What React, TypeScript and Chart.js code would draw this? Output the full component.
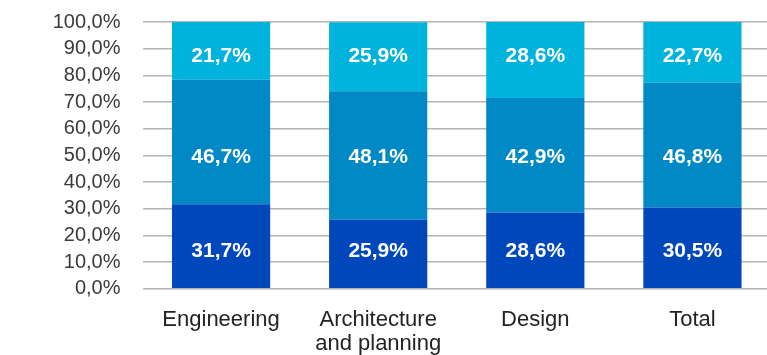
import React, { useEffect, useRef } from "react";
import { Chart, registerables } from "chart.js";

Chart.register(...registerables);

const categories: (string | string[])[] = ["Engineering", ["Architecture", "and planning"], "Design", "Total"];
const bottomSeries = [31.7, 25.9, 28.6, 30.5];
const middleSeries = [46.7, 48.1, 42.9, 46.8];
const topSeries = [21.7, 25.9, 28.6, 22.7];
const yTicks = [0, 10, 20, 30, 40, 50, 60, 70, 80, 90, 100];

const fmt = (v: number) => v.toFixed(1).replace(".", ",") + "%";
const mean = (a: number[]) => a.reduce((s, v) => s + v, 0) / a.length;

// labels sit on one row per series: bottom/top rows at the mean segment centre, middle row at axis midpoint
const labelRows = [mean(bottomSeries) / 2, 50, 100 - mean(topSeries) / 2];

const labelPlugin = {
  id: "segLabels",
  afterDatasetsDraw(chart: any) {
    const ctx = chart.ctx;
    const yScale = chart.scales.y;
    ctx.save();
    ctx.fillStyle = "#ffffff";
    ctx.font = "bold 21px 'Liberation Sans', Arial, sans-serif";
    ctx.textAlign = "center";
    ctx.textBaseline = "alphabetic";
    chart.data.datasets.forEach((ds: any, di: number) => {
      const meta = chart.getDatasetMeta(di);
      const yc = yScale.getPixelForValue(labelRows[di]);
      meta.data.forEach((bar: any, i: number) => {
        const { x } = bar.getProps(["x"], true);
        ctx.fillText(fmt(ds.data[i]), x, yc + 7.5);
      });
    });
    ctx.restore();
  },
};

export default function App() {
  const ref = useRef<HTMLCanvasElement>(null);
  useEffect(() => {
    document.body.style.margin = "0";
    const chart = new Chart(ref.current!, {
      type: "bar",
      data: {
        labels: categories,
        datasets: [
          { label: "A", data: bottomSeries, backgroundColor: "#0047BB", categoryPercentage: 1, barPercentage: 0.625 },
          { label: "B", data: middleSeries, backgroundColor: "#0089C4", categoryPercentage: 1, barPercentage: 0.625 },
          { label: "C", data: topSeries, backgroundColor: "#00B3DD", categoryPercentage: 1, barPercentage: 0.625 },
        ],
      },
      options: {
        animation: false,
        responsive: true,
        maintainAspectRatio: false,
        layout: { padding: { top: 8, left: 0, right: 0, bottom: 0 } },
        plugins: { legend: { display: false }, tooltip: { enabled: false } },
        scales: {
          x: {
            stacked: true,
            grid: { display: false, drawTicks: false },
            border: { display: false },
            ticks: {
              color: "#222222",
              padding: 20,
              maxRotation: 0,
              autoSkip: false,
              font: { family: "'Liberation Sans', Arial, sans-serif", size: 22, lineHeight: 1.05 },
            },
            afterFit: (s: any) => { s.height = 66.7; },
          },
          y: {
            stacked: true,
            min: 0,
            max: 100,
            afterBuildTicks: (s: any) => { s.ticks = yTicks.map((v) => ({ value: v })); },
            grid: { color: "#b4b4b4", lineWidth: 1.5, drawTicks: false },
            border: { display: false },
            ticks: {
              stepSize: 10,
              autoSkip: false,
              color: "#3a3a3a",
              padding: 22,
              font: { family: "'Liberation Sans', Arial, sans-serif", size: 20 },
              callback: (v: any) => fmt(Number(v)),
            },
            afterFit: (s: any) => { s.width = 142.5; },
          },
        },
      },
      plugins: [labelPlugin],
    });
    return () => chart.destroy();
  }, []);
  return (
    <div style={{ width: 767, height: 355, overflow: "hidden", position: "relative" }}>
      <div style={{ position: "absolute", left: 0, top: -12.5, width: 771, height: 367.5 }}>
        <canvas ref={ref} />
      </div>
    </div>
  );
}
